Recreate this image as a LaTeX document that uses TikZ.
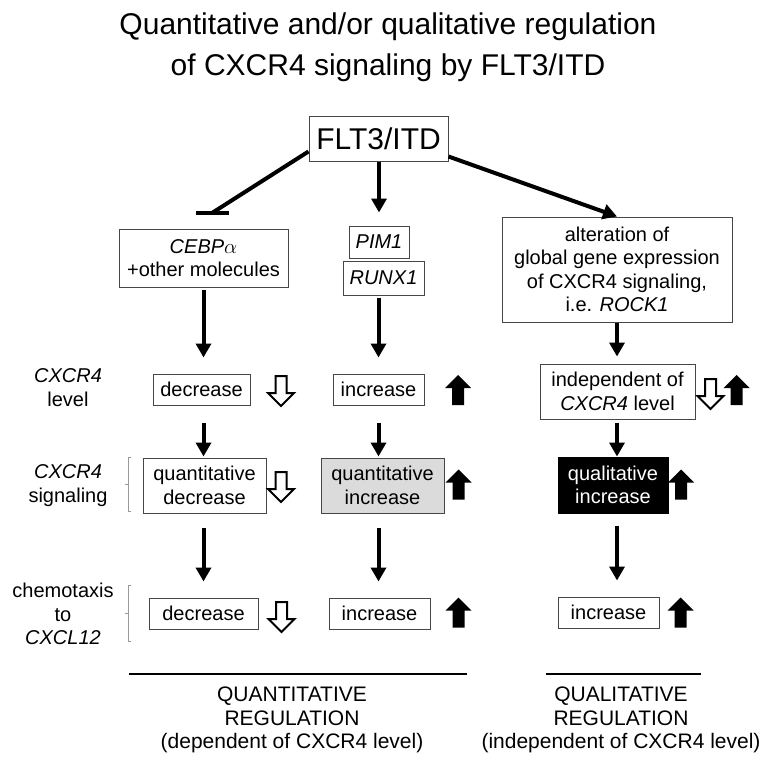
\documentclass[tikz,border=0pt]{standalone}
\usepackage{fontspec}
\setmainfont{Liberation Sans}
\usepackage{tikz}
\usetikzlibrary{positioning,arrows.meta,calc}
\newcommand{\boxfont}{\fontsize{20}{23.5}\selectfont}
\newcommand{\bigfont}{\fontsize{30}{41}\selectfont}
\newcommand{\footfont}{\fontsize{21}{23.3}\selectfont}
\tikzset{
 box/.style={draw=gray!55!black, line width=1pt, inner sep=0pt, align=center, font=\boxfont},
 greybox/.style={box, fill=gray!28},
 blackbox/.style={box, draw=black, fill=black, text=white},
 sidetext/.style={align=center, font=\boxfont, inner sep=0pt},
 foottext/.style={align=center, font=\footfont, inner sep=0pt},
 flow/.style={line width=4pt, -{Triangle[length=14pt,width=15pt]}},
 inhibit/.style={line width=4pt},
 brace/.style={draw=gray!80, line width=0.8pt},
 rule/.style={line width=1.3pt},
 rise/.pic={\fill (0,-15) -- (13,-2) -- (6,-2) -- (6,15) -- (-6,15) -- (-6,-2) -- (-13,-2) -- cycle;},
 fall/.pic={\draw[line width=2pt, fill=white] (-5.5,-15) -- (5.5,-15) -- (5.5,2) -- (13,2) -- (0,15) -- (-13,2) -- (-5.5,2) -- cycle;}
}

\begin{document}
\begin{tikzpicture}[x=1pt,y=-1pt]
  \useasboundingbox (0,0) rectangle (759,757);
  \node[align=center, font=\bigfont, inner sep=0pt] (title) at (388,47.5)
    {Quantitative and/or qualitative regulation\\of CXCR4 signaling by FLT3/ITD};
  \node[box, font=\bigfont, minimum width=139pt, minimum height=45pt] (flt) at (378.5,138.5) {FLT3/ITD};

  % second level
  \node[box, minimum width=169pt, minimum height=58pt] (cebp) at (203.5,258) {\textit{CEBP}$\alpha$\\+other molecules};
  \node[box, minimum width=60pt, minimum height=32pt] (pim) at (379,242) {\textit{PIM1}};
  \node[box, minimum width=81pt, minimum height=34pt] (runx) at (383.5,278) {\textit{RUNX1}};
  \node[box, minimum width=230pt, minimum height=105pt] (alter) at (617,269.5)
    {alteration of\\global gene expression\\of CXCR4 signaling,\\i.e. \textit{ROCK1}};

  % CXCR4 level
  \node[sidetext] (lvl) at (68,387.5) {\textit{CXCR4}\\level};
  \node[box, minimum width=97pt, minimum height=31pt] (dec1) at (201.5,389.5) {decrease};
  \node[box, minimum width=91pt, minimum height=31pt] (inc1) at (378.5,389.5) {increase};
  \node[box, minimum width=155pt, minimum height=55pt] (indep) at (617.5,391.5) {independent of\\\textit{CXCR4} level};
  \pic at (281,391) {fall};
  \pic at (458,390) {rise};
  \pic at (710.5,394) {fall};
  \pic at (736.5,390) {rise};

  % CXCR4 signaling
  \node[sidetext] (sig) at (68,485.5) {\textit{CXCR4}\\signaling};
  \draw[brace] (131,457) -- (128,457) -- (128,511) -- (131,511) (128,484) -- (125,484);
  \node[box, minimum width=123pt, minimum height=55pt] (qdec) at (204.5,485.5) {quantitative\\decrease};
  \node[greybox, minimum width=123pt, minimum height=55pt] (qinc) at (382.5,485.5) {quantitative\\increase};
  \node[blackbox, minimum width=110pt, minimum height=56pt] (qlinc) at (613,485) {qualitative\\increase};
  \pic at (281,487) {fall};
  \pic at (458.5,484.5) {rise};
  \pic at (681,484.5) {rise};

  % chemotaxis
  \node[sidetext] (chem) at (63,614) {chemotaxis\\to\\\textit{CXCL12}};
  \draw[brace] (131,585) -- (128,585) -- (128,641) -- (131,641) (128,613) -- (125,613);
  \node[box, minimum width=109pt, minimum height=31pt] (dec3) at (203.5,613.5) {decrease};
  \node[box, minimum width=101pt, minimum height=31pt] (inc3) at (379.5,613.5) {increase};
  \node[box, minimum width=101pt, minimum height=31pt] (inc3r) at (608.5,612.5) {increase};
  \pic at (281.5,617) {fall};
  \pic at (458.5,612.5) {rise};
  \pic at (680.5,612.5) {rise};

  % connectors
  \coordinate (bar) at (212,213);
  \draw[inhibit] ($(flt.south west)+(0,-10)$) -- (bar);
  \draw[inhibit] ($(bar)+(-16,0)$) -- ($(bar)+(17,0)$);
  \draw[flow, shorten >=13pt] (flt.south -| pim) -- (pim.north);
  \draw[flow] ($(flt.south east)+(0,-5)$) -- (alter.north);

  \draw[flow, shorten <=2pt, shorten >=16pt] (cebp.south) -- (cebp.south |- dec1.north);
  \draw[flow, shorten <=2pt, shorten >=16pt] (runx.south -| inc1) -- (inc1.north);
  \draw[flow, shorten >=7pt] (alter.south) -- (alter.south |- indep.north);

  \draw[flow, shorten <=17pt, shorten >=1pt] (dec1.south -| cebp) -- (cebp |- qdec.north);
  \draw[flow, shorten <=17pt, shorten >=1pt] (inc1.south) -- (inc1.south |- qinc.north);
  \draw[flow, shorten <=3pt] (alter.south |- indep.south) -- (alter.south |- qlinc.north);

  \draw[flow, shorten <=14pt, shorten >=16pt] (qdec.south -| cebp) -- (cebp |- dec3.north);
  \draw[flow, shorten <=14pt, shorten >=16pt] (qinc.south -| inc1) -- (inc1 |- inc3.north);
  \draw[flow, shorten <=12pt, shorten >=16pt] (qlinc.south -| alter) -- (alter |- inc3r.north);

  % regulation types
  \draw[rule] (129,674) -- (467,674);
  \draw[rule] (546,674) -- (701,674);
  \node[foottext] (quant) at (292,720) {QUANTITATIVE\\REGULATION\\(dependent of CXCR4 level)};
  \node[foottext] (qual) at (621,720) {QUALITATIVE\\REGULATION\\(independent of CXCR4 level)};
\end{tikzpicture}
\end{document}
